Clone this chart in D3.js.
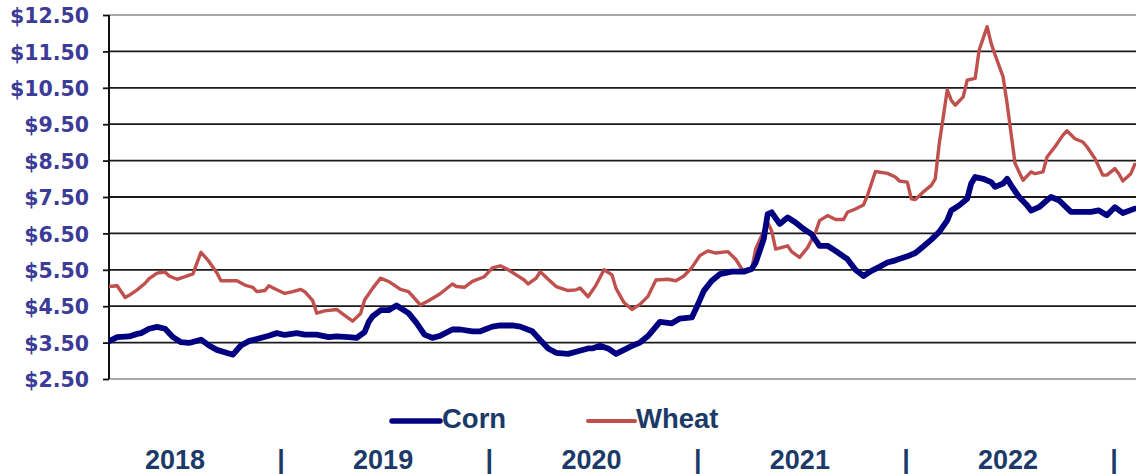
<!DOCTYPE html>
<html>
<head>
<meta charset="utf-8">
<script src="https://cdn.jsdelivr.net/npm/d3@7"></script>
<style>
  html, body { margin: 0; padding: 0; background: #fff; }
  svg { display: block; }
</style>
</head>
<body>
<svg id="chart" width="1136" height="474"></svg>
<script>
// ---- Data (weeks since first observation, price in $/bu) ----
const startDate = "2018-03-09";

const cornWeek = [0,2,5,7,8,10,12,14,16,18,20,23,25,27,30,31,33,35,37,40,42,44,47,49,52,55,57,60,62,64,65,66,68,70,72,75,77,79,81,83,86,88,91,93,96,98,101,103,106,108,110,112,115,117,120,121,123,125,127,129,131,133,135,138,141,143,146,147,149,151,153,156,159,161,162,164,165,166,168,170,172,174,176,178,180,182,185,187,189,191,193,195,197,200,202,204,206,208,210,211,213,215,216,217,219,221,222,224,225,226,228,230,231,233,235,236,238,241,244,246,248,250,252,254,257];
const cornPrice = [3.54,3.65,3.67,3.74,3.76,3.88,3.93,3.88,3.65,3.51,3.49,3.58,3.42,3.30,3.20,3.17,3.42,3.54,3.60,3.69,3.76,3.71,3.76,3.72,3.72,3.65,3.67,3.65,3.63,3.79,4.06,4.22,4.39,4.39,4.52,4.31,4.04,3.72,3.63,3.69,3.86,3.86,3.81,3.81,3.94,3.97,3.97,3.94,3.81,3.57,3.34,3.22,3.19,3.25,3.34,3.34,3.41,3.34,3.19,3.30,3.41,3.50,3.68,4.07,4.03,4.16,4.19,4.42,4.92,5.20,5.38,5.45,5.45,5.52,5.70,6.34,7.03,7.08,6.76,6.94,6.80,6.62,6.48,6.16,6.16,6.02,5.79,5.50,5.33,5.47,5.58,5.70,5.76,5.87,5.96,6.14,6.33,6.54,6.86,7.13,7.27,7.45,7.87,8.05,8.00,7.91,7.78,7.87,8.00,7.82,7.50,7.27,7.13,7.22,7.41,7.50,7.41,7.09,7.09,7.09,7.13,7.00,7.22,7.06,7.18];

const wheatWeek = [0,2,4,5,7,9,10,12,14,15,17,19,21,22,23,25,27,28,30,32,34,36,37,39,40,42,44,46,48,49,51,52,54,57,59,61,63,64,66,68,70,73,75,76,78,80,82,83,86,87,89,91,94,96,98,100,102,104,105,107,108,110,112,115,117,118,120,122,124,126,127,129,131,133,135,137,140,142,144,146,148,150,152,155,157,159,161,162,165,166,167,170,171,173,175,177,178,180,182,184,185,187,189,190,192,195,197,198,200,201,202,204,206,207,208,209,210,211,212,214,215,217,218,220,221,222,224,225,226,227,229,231,232,234,235,237,239,240,242,244,245,247,249,250,252,253,254,256,257];
const wheatPrice = [5.04,5.06,4.74,4.80,4.95,5.13,5.26,5.41,5.44,5.33,5.24,5.31,5.39,5.69,5.98,5.73,5.41,5.20,5.20,5.20,5.08,5.02,4.90,4.93,5.06,4.95,4.85,4.90,4.96,4.90,4.65,4.31,4.37,4.41,4.25,4.09,4.30,4.67,4.99,5.27,5.18,4.96,4.90,4.78,4.53,4.65,4.78,4.85,5.11,5.04,5.02,5.18,5.31,5.55,5.61,5.50,5.36,5.22,5.11,5.27,5.45,5.24,5.04,4.93,4.95,5.00,4.76,5.08,5.50,5.36,4.99,4.60,4.41,4.55,4.77,5.22,5.24,5.20,5.33,5.56,5.89,6.02,5.96,6.00,5.79,5.44,5.52,6.07,6.80,6.57,6.07,6.16,6.00,5.84,6.11,6.53,6.85,6.99,6.88,6.88,7.08,7.17,7.28,7.54,8.20,8.15,8.05,7.94,7.91,7.45,7.43,7.64,7.82,8.00,8.97,9.70,10.44,10.16,10.02,10.25,10.71,10.76,11.54,12.18,11.72,11.40,10.80,10.07,9.24,8.42,7.96,8.19,8.14,8.19,8.60,8.88,9.20,9.32,9.10,9.01,8.88,8.56,8.10,8.10,8.28,8.14,7.94,8.14,8.40];

const yTicks = [2.5,3.5,4.5,5.5,6.5,7.5,8.5,9.5,10.5,11.5,12.5];
const years = ["2018","2019","2020","2021","2022"];
const yearBreaks = ["2019","2020","2021","2022","2023"];
const seriesNames = ["Corn","Wheat"];

// ---- Layout ----
const plot = { left: 109, right: 1136, top: 15, bottom: 379 };
const colors = { Corn: "#000080", Wheat: "#c0504d" };
const textBlue = "#3c3c98";
const navyText = "#1b3a68";

const svg = d3.select("#chart");
const parse = d3.utcParse("%Y-%m-%d");
const start = parse(startDate);
const toDate = w => d3.utcDay.offset(start, Math.round(w * 7));

const x = d3.scaleUtc()
  .domain([parse("2018-01-01"), parse("2023-01-01")])
  .range([71, 1112]);
const y = d3.scaleLinear().domain([2.5, 12.5]).range([plot.bottom, plot.top]);

// gridlines
svg.append("g").selectAll("line").data(yTicks).join("line")
  .attr("x1", plot.left).attr("x2", plot.right)
  .attr("y1", d => y(d)).attr("y2", d => y(d))
  .attr("stroke", d => (d === 12.5 || d === 2.5) ? "#a8a8a8" : "#1a1a1a")
  .attr("stroke-width", 1.8);

// y axis
const yAxis = d3.axisLeft(y).tickValues(yTicks).tickSize(6).tickPadding(14)
  .tickFormat(d => "$" + d3.format(".2f")(d));
const gy = svg.append("g").attr("transform", `translate(${plot.left},0)`).call(yAxis);
gy.select(".domain").attr("stroke", "#111").attr("stroke-width", 2).attr("d", `M0,${plot.top}V${plot.bottom}`);
gy.selectAll(".tick line").attr("stroke", "#111").attr("stroke-width", 1.8);
gy.selectAll(".tick text")
  .attr("fill", textBlue)
  .attr("font-family", "DejaVu Sans")
  .attr("font-weight", "bold")
  .attr("font-size", 20.5)
  .attr("dy", "0.38em");

// lines
svg.append("clipPath").attr("id", "clip").append("rect")
  .attr("x", plot.left).attr("y", 0).attr("width", plot.right - plot.left).attr("height", plot.bottom + 10);

const line = d3.line().x(d => x(d.date)).y(d => y(d.v)).curve(d3.curveLinear);
const cornData = cornWeek.map((w, i) => ({ date: toDate(w), v: cornPrice[i] }));
const wheatData = wheatWeek.map((w, i) => ({ date: toDate(w), v: wheatPrice[i] }));

const lg = svg.append("g").attr("clip-path", "url(#clip)");
lg.append("path").datum(wheatData).attr("d", line)
  .attr("fill", "none").attr("stroke", colors.Wheat).attr("stroke-width", 3.4)
  .attr("stroke-linejoin", "round").attr("stroke-linecap", "round");
lg.append("path").datum(cornData).attr("d", line)
  .attr("fill", "none").attr("stroke", colors.Corn).attr("stroke-width", 5.8)
  .attr("stroke-linejoin", "round").attr("stroke-linecap", "round");

// legend
const legendPos = [{ x1: 392, x2: 440, tx: 442 }, { x1: 588, x2: 635, tx: 636 }];
const leg = svg.append("g");
seriesNames.forEach((name, i) => {
  const p = legendPos[i];
  leg.append("line").attr("x1", p.x1).attr("x2", p.x2).attr("y1", 421).attr("y2", 421)
    .attr("stroke", colors[name]).attr("stroke-width", name === "Corn" ? 5.5 : 4)
    .attr("stroke-linecap", "round");
  leg.append("text").attr("x", p.tx).attr("y", 428).text(name)
    .attr("fill", navyText).attr("font-family", "Liberation Sans")
    .attr("font-weight", "bold").attr("font-size", 27.5);
});

// year labels
const yearG = svg.append("g").attr("font-family", "Liberation Sans").attr("font-weight", "bold")
  .attr("font-size", 27).attr("fill", navyText).attr("text-anchor", "middle");
yearG.selectAll("text.yr").data(years).join("text").attr("class", "yr")
  .attr("x", d => (x(parse(d + "-01-01")) + x(parse((+d + 1) + "-01-01"))) / 2)
  .attr("y", 469).text(d => d);
yearG.selectAll("text.sep").data(yearBreaks).join("text").attr("class", "sep")
  .attr("x", d => x(parse(d + "-01-01")) + 2)
  .attr("y", 469).text("|");
</script>
</body>
</html>
